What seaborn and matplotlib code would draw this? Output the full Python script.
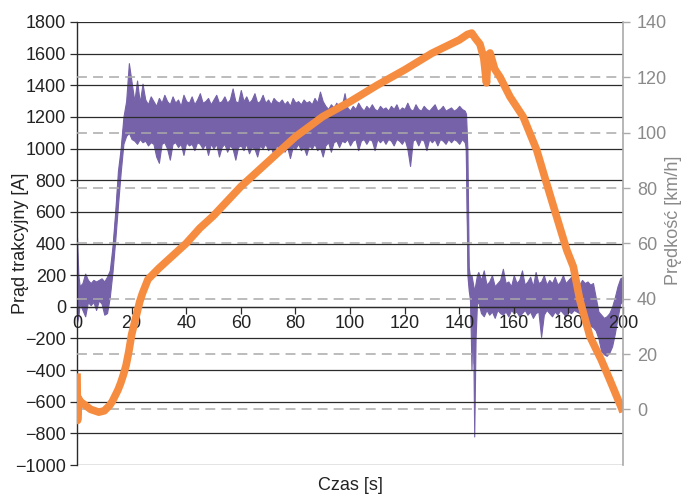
import numpy as np
import pandas as pd
import matplotlib
matplotlib.use("Agg")
import matplotlib.pyplot as plt
import seaborn as sns

# ---------------------------------------------------------------------------
# Traction current [A]: upper / lower envelope of the measured signal
# ---------------------------------------------------------------------------
cur_t = ([0, 0.5, 1, 2, 3, 4, 5, 6, 7, 8, 9, 10, 11, 12, 13, 14, 15, 16, 17, 18,
          19, 19.5]
         + list(range(20, 143))
         + [142.5, 143, 143.5, 144, 144.5, 145, 145.5, 146, 146.5, 147]
         + list(range(148, 201)))

cur_hi = ([440, 200, 130, 150, 210, 170, 150, 170, 160, 170, 180, 160, 190, 230,
           380, 600, 860, 1000, 1200, 1300, 1540, 1480,
           # 20 .. 142
           1420, 1300, 1430, 1290, 1410, 1310, 1280, 1330, 1300, 1270,
           1320, 1290, 1340, 1300, 1280, 1330, 1290, 1310, 1270, 1340,
           1300, 1290, 1330, 1280, 1310, 1350, 1290, 1300, 1320, 1280,
           1310, 1340, 1290, 1300, 1330, 1290, 1310, 1380, 1300, 1290,
           1370, 1300, 1330, 1290, 1310, 1350, 1290, 1300, 1340, 1290,
           1310, 1280, 1320, 1300, 1290, 1310, 1280, 1300, 1270, 1320,
           1290, 1300, 1280, 1310, 1290, 1300, 1280, 1320, 1290, 1360,
           1300, 1270, 1250, 1280, 1260, 1290, 1250, 1270, 1350, 1260,
           1240, 1270, 1250, 1290, 1260, 1240, 1270, 1250, 1280, 1250,
           1240, 1270, 1250, 1260, 1240, 1270, 1250, 1280, 1240, 1260,
           1250, 1290, 1250, 1240, 1280, 1250, 1240, 1270, 1250, 1240,
           1260, 1280, 1240, 1250, 1270, 1240, 1250, 1260, 1240, 1250,
           1270, 1250, 1240,
           # 142.5 .. 147
           1220, 1000, 250, 180, 200, 150, 100, 150, 200, 220,
           # 148 .. 200
           170, 230, 140, 160, 200, 130, 150, 170, 240, 150,
           160, 130, 200, 150, 170, 230, 140, 160, 190, 130,
           220, 150, 160, 200, 140, 170, 150, 190, 140, 160,
           200, 150, 170, 190, 150,
           160, 140, 170, 150, 160, 140, 150, 60, -30, -50,
           -70, -60, -40, 0, 60, 130, 180, 190])

cur_lo = ([-100, -60, 20, -20, -60, 30, 10, 30, -20, 40, 20, -50, -40, 60,
           220, 420, 640, 850, 1030, 1080, 1100, 1080,
           # 20 .. 142
           1060, 1050, 1030, 1060, 1040, 1050, 1020, 1040, 1030, 950,
           910, 1030, 1040, 1000, 930, 1030, 1040, 1010, 1030, 960,
           1040, 1020, 1030, 990, 1040, 1030, 1000, 1030, 960, 1030,
           1000, 1030, 950, 1010, 1030, 980, 1020, 1000, 930, 1010,
           1020, 990, 1030, 970, 1010, 1000, 950, 1020, 1000, 1030,
           990, 1010, 960, 1020, 1000, 1030, 980, 1010, 940, 1010,
           1000, 1030, 990, 1010, 960, 1020, 1000, 1030, 990, 1010,
           950, 1020, 1040, 980, 1040, 1050, 1010, 1050, 1040, 1060,
           1020, 1050, 1060, 990, 1050, 1060, 1030, 1060, 1050, 990,
           1060, 1040, 1060, 1030, 1060, 1050, 1020, 1060, 1050, 1030,
           1060, 1000, 890, 1050, 1060, 1020, 1060, 1050, 990, 1060,
           1040, 1060, 1020, 1060, 1050, 1030, 1060, 1040, 1060, 1050,
           1030, 1060, 1040,
           # 142.5 .. 147
           1000, 200, 100, 50, -400, 20, -820, -200, 20, 30,
           # 148 .. 200
           -40, -60, -20, -50, -30, -70, -20, -40, -50, -30,
           -60, -20, -40, -30, -60, -40, -20, -50, -30, -70,
           -40, -30, -190, -50, -20, -40, -60, -30, -50, -20,
           -40, -60, -30, -40, -20,
           -30, -40, -60, -80, -100, -120, -130, -150, -200, -280,
           -300, -310, -290, -250, -170, -70, 20, 40])

# ---------------------------------------------------------------------------
# Vehicle speed [km/h]
# ---------------------------------------------------------------------------
spd_t = [0, 0.2, 0.6, 1, 3, 5, 8, 10, 12, 13, 14, 15, 16, 17, 18, 19, 20,
         21, 22, 23, 24, 26, 28, 30, 35, 40, 45, 50, 60, 70, 80, 90, 100,
         110, 120, 130, 140, 143, 144.6, 146, 147.6, 149, 150, 150.5, 151.3,
         153, 155, 158.6, 163.4, 168.4, 172, 175.7, 179.4, 181.8, 184.2,
         187.9, 190, 192, 195.2, 199.5, 200]
spd = [13, -4, 4, 3, 1.5, 0, -1, -0.5, 1.5, 3, 5, 7, 9.5, 12.5, 16, 21, 27,
       31, 35, 39, 42, 47, 49, 51, 55.5, 60, 65.5, 70, 80.5, 89.5, 98.5,
       105.8, 111.2, 117.2, 122.7, 128.7, 133.5, 135.5, 136, 134, 132, 127,
       118, 128, 128.8, 123, 120, 113, 105.8, 93.7, 81.7, 69.6, 57.6, 51.6,
       39.5, 26.3, 22, 18, 10.6, 0.4, -1]

x_ticks = list(range(0, 201, 20))
cur_ticks = list(range(-1000, 1801, 200))
spd_ticks = list(range(0, 141, 20))

PURPLE = "#7562a9"
ORANGE = "#f68c40"
FS = 13

sns.set_theme(style="white")
plt.rcParams["font.family"] = ["Liberation Sans", "DejaVu Sans"]
plt.rcParams["axes.unicode_minus"] = True

fig = plt.figure(figsize=(6.83, 4.95), dpi=100)
ax1 = fig.add_axes([77 / 683, 1 - 465 / 495, 546 / 683, 443 / 495])
ax2 = ax1.twinx()

# speed reference lines (dashed) below the speed trace
for v in spd_ticks[:-1]:
    ax2.axhline(v, color="#aaaaaa", linewidth=1.1, linestyle=(0, (6.5, 4)),
                zorder=0.5)

# current: band between envelopes (min/max of the two readings per instant)
cur_df = pd.DataFrame({
    "t": np.concatenate([cur_t, cur_t]),
    "A": np.concatenate([cur_hi, cur_lo]),
})
sns.lineplot(data=cur_df, x="t", y="A", estimator="mean",
             errorbar=("pi", 100), color=PURPLE, linewidth=1.0,
             err_kws={"alpha": 1.0, "linewidth": 0.8, "edgecolor": PURPLE},
             ax=ax1)

spd_df = pd.DataFrame({"t": spd_t, "v": spd})
sns.lineplot(data=spd_df, x="t", y="v", color=ORANGE, linewidth=5.5,
             solid_capstyle="butt", ax=ax2)

# left axis (current)
ax1.set_xlim(0, 200)
ax1.set_ylim(-1000, 1800)
ax1.set_xticks(x_ticks)
ax1.set_yticks(cur_ticks)
ax1.set_axisbelow(False)
ax1.grid(axis="y", color="#2b2b2b", linewidth=0.9)
ax1.grid(axis="x", visible=False)
ax1.spines["bottom"].set_position(("data", 0))
ax1.spines["bottom"].set_color("#2b2b2b")
ax1.spines["bottom"].set_linewidth(0.9)
ax1.spines["left"].set_color("#2b2b2b")
ax1.spines["left"].set_linewidth(1.0)
ax1.spines["top"].set_visible(False)
ax1.spines["right"].set_visible(False)
ax1.tick_params(axis="y", which="major", left=True, length=5, width=0.9,
                color="#2b2b2b", labelsize=FS, labelcolor="#222222", pad=3)
ax1.tick_params(axis="x", which="major", bottom=True, length=5, width=0.9,
                color="#2b2b2b", labelsize=FS, labelcolor="#222222", pad=1)
ax1.set_xlabel("Czas [s]", fontsize=FS, color="#222222")
ax1.xaxis.set_label_coords(0.5, -0.028)
ax1.set_ylabel("Prąd trakcyjny [A]", fontsize=FS, color="#222222")
ax1.yaxis.set_label_coords(-0.088, 0.5)

# right axis (speed)
ax2.set_ylim(-20.1, 140)
ax2.set_yticks(spd_ticks)
ax2.grid(False)
for side in ("left", "top", "bottom"):
    ax2.spines[side].set_visible(False)
ax2.spines["right"].set_color("#aaaaaa")
ax2.spines["right"].set_linewidth(1.2)
ax2.tick_params(axis="y", which="major", right=True, length=5, width=1.0,
                color="#aaaaaa", labelsize=FS, labelcolor="#8a8a8a", pad=5)
ax2.set_ylabel("Prędkość [km/h]", fontsize=FS, color="#8a8a8a")
ax2.yaxis.set_label_coords(1.077, 0.553)
ax2.set_xlabel("")

fig.savefig("out.png", dpi=100)
